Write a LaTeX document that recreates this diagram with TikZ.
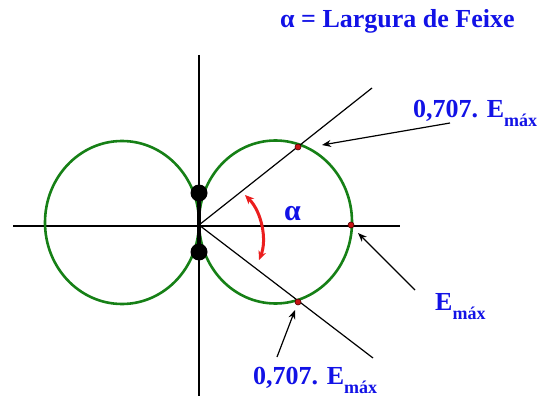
\documentclass[tikz,border=0pt]{standalone}
\usepackage{fontspec}
\setmainfont{Liberation Serif}
\usetikzlibrary{arrows.meta}
\definecolor{txtblue}{RGB}{18,18,230}
\definecolor{patgreen}{RGB}{22,128,22}
\definecolor{arcred}{RGB}{235,30,30}
\definecolor{dotred}{RGB}{200,20,20}
\newcommand{\sub}[1]{\raisebox{-9pt}{\fontsize{18}{18}\selectfont #1}}
\tikzset{
  axis/.style={black, line width=1.2pt},
  lobe/.style={patgreen, line width=2.6pt},
  pointer/.style={black, line width=1.2pt, -{Stealth[length=9pt,width=7pt]}},
  lbl/.style={inner sep=0pt, anchor=base west, text=txtblue, font=\bfseries\fontsize{26}{26}\selectfont},
  mark dot/.style={circle, fill=dotred, draw=black!70!red, line width=0.6pt, inner sep=0pt, minimum size=6pt},
  ball/.style={circle, fill=black, inner sep=0pt, minimum size=17pt},
}
\begin{document}
\begin{tikzpicture}[x=1pt,y=-1pt]
\useasboundingbox (0,0) rectangle (545,398);
% axes
\coordinate (O) at (199,225);
\coordinate (vt) at (199,55);
\coordinate (vb) at (199,396);
\coordinate (hl) at (13,226);
\coordinate (hr) at (400,226);
\draw[axis] (vt) -- (vb);
\draw[axis] (hl) -- (hr);
% lobes
\draw[lobe] (275.5,222) ellipse [x radius=76.5, y radius=81.5];
\draw[lobe] (122,222.5) ellipse [x radius=77, y radius=81.5];
% beam lines
\coordinate (bu) at (372,88);
\coordinate (bd) at (373,358);
\draw[axis] (O) -- (bu);
\draw[axis] (O) -- (bd);
% dipole
\node[ball] (b1) at (199,193) {};
\node[ball] (b2) at (199,252) {};
\draw[black, line width=4pt] (b1.center) -- (b2.center);
% red dots
\node[mark dot] (pu) at (298,147) {};
\node[mark dot] (pm) at (351,225) {};
\node[mark dot] (pd) at (298,302) {};
% alpha arc
\coordinate (a1) at (245,195);
\coordinate (a2) at (259,260);
\draw[arcred, line width=3pt, {Stealth[length=9pt,width=8pt]}-{Stealth[length=9pt,width=8pt]}]
  (a1) .. controls (262,212) and (267,240) .. (a2);
\node[lbl, font=\bfseries\fontsize{30}{30}\selectfont] (alpha) at (284,220) {α};
% labels
\node[lbl] (title) at (280,28) {α = Largura de Feixe};
\node[lbl] (lu) at (413,118) {0,707. E\sub{máx}};
\node[lbl] (lm) at (435,310) {E\sub{máx}};
\node[lbl] (ld) at (253,384) {0,707. E\sub{máx}};
% pointers
\coordinate (tu) at (450,123);
\coordinate (tm) at (415,290);
\coordinate (td) at (277,357);
\draw[pointer] (tu) -- (322,145);
\draw[pointer] (tm) -- (358,233);
\draw[pointer] (td) -- (295,310);
\end{tikzpicture}
\end{document}
